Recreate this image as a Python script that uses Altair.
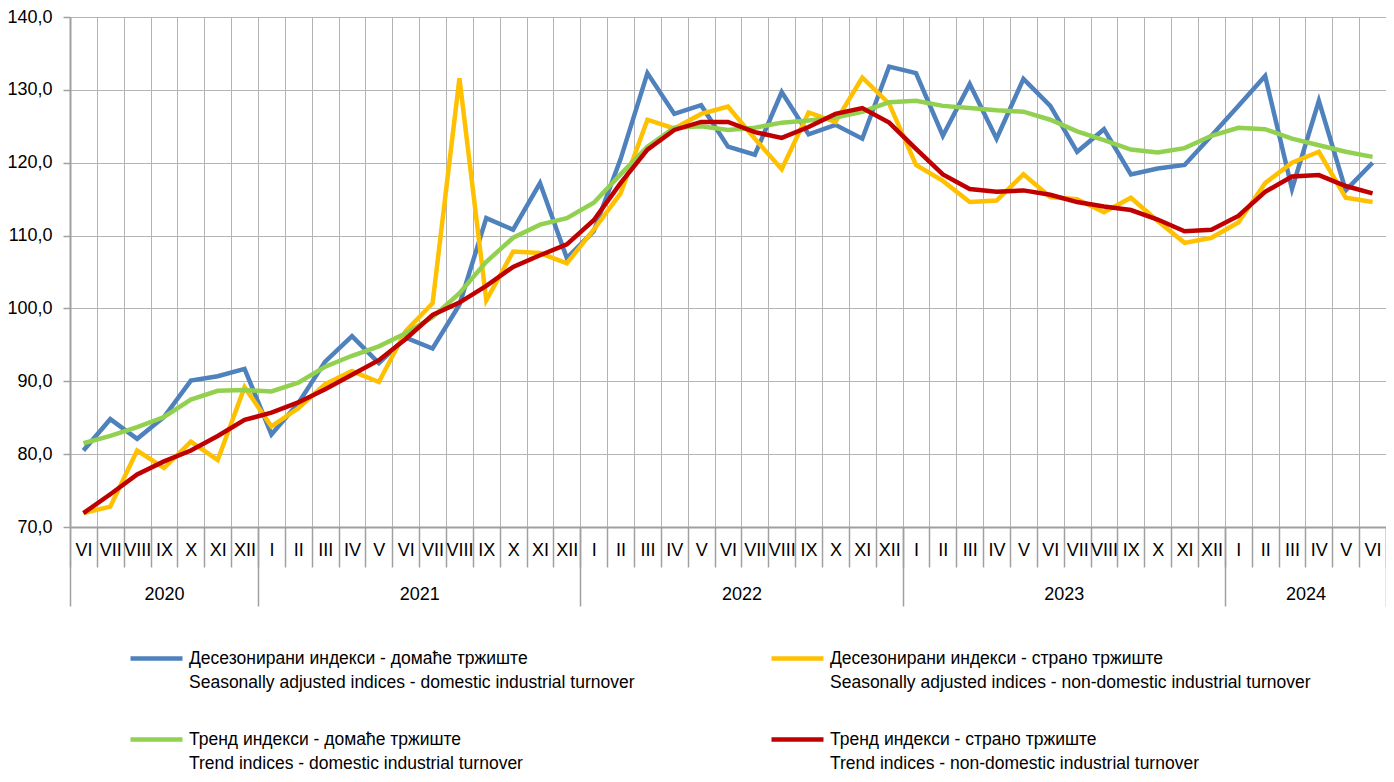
import json
import altair as alt
import pandas as pd

roman = ["I", "II", "III", "IV", "V", "VI", "VII", "VIII", "IX", "X", "XI", "XII"]
month_labels = roman[5:] + roman + roman + roman + roman[:6]
years = ["2020", "2021", "2022", "2023", "2024"]
year_months = [7, 12, 12, 12, 6]

series_names = [
    "Десезонирани индекси - домаће тржиште|Seasonally adjusted indices - domestic industrial turnover",
    "Десезонирани индекси - страно тржиште|Seasonally adjusted indices - non-domestic industrial turnover",
    "Тренд индекси - домаће тржиште|Trend indices - domestic industrial turnover",
    "Тренд индекси - страно тржиште|Trend indices - non-domestic industrial turnover",
]
colors = ["#4F81BD", "#FFC000", "#92D050", "#C00000"]

sa_domestic = [80.5, 84.8, 82.1, 85.1, 90.1, 90.7, 91.7,
               82.7, 87.0, 92.7, 96.2, 92.5, 96.0, 94.5, 100.5, 112.4, 110.8, 117.2, 106.9,
               110.6, 120.5, 132.3, 126.7, 127.9, 122.2, 121.1, 129.7, 123.9, 125.2, 123.3, 133.2,
               132.3, 123.7, 130.8, 123.3, 131.5, 127.8, 121.5, 124.6, 118.4, 119.2, 119.7, 123.7,
               127.8, 131.9, 116.4, 128.5, 116.2, 120.0]
sa_foreign = [71.9, 72.8, 80.5, 78.1, 81.7, 79.2, 89.2,
              83.8, 86.3, 89.6, 91.4, 89.9, 96.9, 100.7, 131.6, 101.1, 107.8, 107.6, 106.2,
              110.8, 115.8, 125.9, 124.7, 126.7, 127.7, 123.3, 119.1, 126.9, 125.6, 131.7, 128.1,
              119.7, 117.5, 114.6, 114.8, 118.4, 115.3, 115.0, 113.2, 115.2, 112.0, 109.0, 109.7,
              111.8, 117.2, 120.0, 121.5, 115.2, 114.6]
trend_domestic = [81.5, 82.5, 83.7, 85.1, 87.5, 88.7, 88.8,
                  88.6, 89.8, 92.0, 93.5, 94.8, 96.6, 98.8, 102.1, 106.4, 109.7, 111.5, 112.4,
                  114.5, 118.4, 122.2, 124.8, 125.0, 124.5, 124.8, 125.5, 125.8, 126.2, 127.0, 128.3,
                  128.5, 127.8, 127.5, 127.2, 127.0, 125.9, 124.3, 123.1, 121.8, 121.4, 122.0, 123.7,
                  124.8, 124.6, 123.3, 122.4, 121.5, 120.8]
trend_foreign = [71.9, 74.5, 77.2, 79.0, 80.5, 82.5, 84.7,
                 85.7, 87.1, 88.9, 90.9, 92.9, 95.8, 99.1, 100.8, 103.1, 105.7, 107.3, 108.8,
                 112.1, 117.2, 121.8, 124.5, 125.6, 125.6, 124.2, 123.4, 124.9, 126.7, 127.5, 125.5,
                 121.9, 118.4, 116.4, 116.0, 116.2, 115.6, 114.6, 114.0, 113.5, 112.2, 110.6, 110.8,
                 112.7, 116.0, 118.1, 118.3, 116.8, 115.8]

all_series = [sa_domestic, sa_foreign, trend_domestic, trend_foreign]

rows = []
for k, (name, vals) in enumerate(zip(series_names, all_series)):
    for i, v in enumerate(vals):
        rows.append({"pos": i + 0.5, "value": v, "series": name, "k": k})
df = pd.DataFrame(rows)

n = len(month_labels)
bounds = [0]
for m in year_months:
    bounds.append(bounds[-1] + m)
centers = [(bounds[i] + bounds[i + 1]) / 2 for i in range(len(years))]

FONT = "Liberation Sans, Arial, sans-serif"
GRID = "#b4b4b4"
AXIS = "#a0a0a0"
W, H = 1316, 510
band = W / n

xscale = alt.Scale(domain=[0, n], nice=False, zero=False)
yscale = alt.Scale(domain=[70, 140], nice=False, zero=False)

month_expr = "datum.value < %d ? %s[datum.value] : ''" % (n, json.dumps(month_labels))
year_expr = "%s[indexof(%s, datum.value)]" % (json.dumps(years), json.dumps(centers))

month_axis = alt.Axis(
    orient="bottom",
    values=list(range(n + 1)), labelExpr=month_expr, title=None,
    grid=True, gridColor=GRID, gridWidth=1,
    domain=True, domainColor=AXIS, domainWidth=2,
    ticks=True, tickSize=40, tickColor=AXIS, tickWidth=1.5,
    labelOffset=band / 2, labelPadding=-26, labelFlush=False, labelOverlap=False,
    labelBound=False, labelFontSize=18, labelColor="#000000", labelFont=FONT,
)
year_tick_axis = alt.Axis(
    orient="bottom",
    values=bounds, labels=False, title=None, grid=False, domain=False,
    ticks=True, tickSize=79, tickColor=AXIS, tickWidth=1.5,
)
year_label_axis = alt.Axis(
    orient="bottom",
    values=centers, labelExpr=year_expr, title=None, grid=False, domain=False,
    ticks=False, labelPadding=58, labelFlush=False, labelOverlap=False,
    labelFontSize=18, labelColor="#000000", labelFont=FONT,
)
y_axis = alt.Axis(
    orient="left",
    values=list(range(70, 141, 10)),
    labelExpr="replace(format(datum.value, '.1f'), '.', ',')",
    title=None, grid=True, gridColor=GRID, gridWidth=1,
    domain=True, domainColor=AXIS, domainWidth=2,
    ticks=True, tickSize=7, tickColor=AXIS, tickWidth=1.5,
    labelPadding=11, labelFontSize=18, labelColor="#000000", labelFont=FONT,
)

legend = alt.Legend(
    title=None, orient="none", legendX=58, legendY=613, columns=2, direction="horizontal",
    symbolType="stroke", symbolSize=2704, symbolStrokeWidth=4.5,
    labelExpr="split(datum.label, '|')", labelBaseline="middle",
    labelFontSize=17.5, labelFont=FONT, labelColor="#000000", labelLimit=900,
    labelOffset=4, rowPadding=20, columnPadding=127,
)

base = alt.Chart(df)

lines = base.mark_line(strokeWidth=4.5).encode(
    x=alt.X("pos:Q", scale=xscale, axis=month_axis),
    y=alt.Y("value:Q", scale=yscale, axis=y_axis),
    color=alt.Color("series:N", scale=alt.Scale(domain=series_names, range=colors), legend=legend),
    detail="k:N",
    order="pos:Q",
)

year_ticks = base.mark_point(opacity=0).encode(
    x=alt.X("pos:Q", scale=xscale, axis=year_tick_axis),
    y=alt.Y("value:Q", scale=yscale, axis=None),
)
year_labels = base.mark_point(opacity=0).encode(
    x=alt.X("pos:Q", scale=xscale, axis=year_label_axis),
    y=alt.Y("value:Q", scale=yscale, axis=None),
)

chart = alt.layer(year_ticks, year_labels, lines).resolve_axis(
    x="independent", y="independent"
).properties(
    width=W, height=H,
    padding={"left": 62, "top": 9, "right": 0, "bottom": 247},
    autosize=alt.AutoSizeParams(type="none"),
).configure(
    font=FONT,
    style={"guide-label": {"lineHeight": 24}},
).configure_view(
    stroke=None,
)

chart.save("out.html", embed_options={"renderer": "svg", "actions": False})
